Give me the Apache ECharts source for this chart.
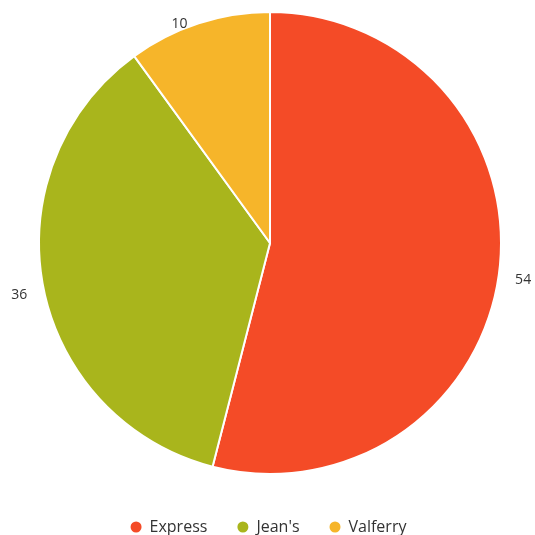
<!DOCTYPE html>
<html><head><meta charset="utf-8">
<script src="https://cdn.jsdelivr.net/npm/echarts@6/dist/echarts.min.js"></script>
<style>html,body{margin:0;padding:0;background:#fff}#c{width:535px;height:535px}</style>
</head><body><div id="c"></div>
<script>
const categories = ["Express", "Jean's", "Valferry"];
const values = [54, 36, 10];
const colors = ["#F44B27", "#A9B51C", "#F6B52A"];
const chart = echarts.init(document.getElementById('c'));
chart.setOption({
  animation: false,
  color: colors,
  textStyle: { fontFamily: "Open Sans" },
  legend: {
    top: 514, left: 'center', icon: 'circle', itemWidth: 17, itemHeight: 13, itemGap: 28,
    textStyle: { fontFamily: "Open Sans", fontSize: 16, color: '#333' },
    data: categories
  },
  series: [{
    type: 'pie',
    center: [270, 243],
    radius: 231,
    startAngle: 90,
    clockwise: true,
    itemStyle: { borderColor: '#fff', borderWidth: 2 },
    label: { show: true, position: 'outside', formatter: '{c}', fontFamily: "Open Sans", fontSize: 14, color: '#333', overflow: 'none' },
    labelLine: { show: false, length: 7, length2: 4 },
    labelLayout: { dy: 7 },
    emphasis: { disabled: true },
    data: categories.map((n, i) => ({ name: n, value: values[i] }))
  }]
});
</script></body></html>
